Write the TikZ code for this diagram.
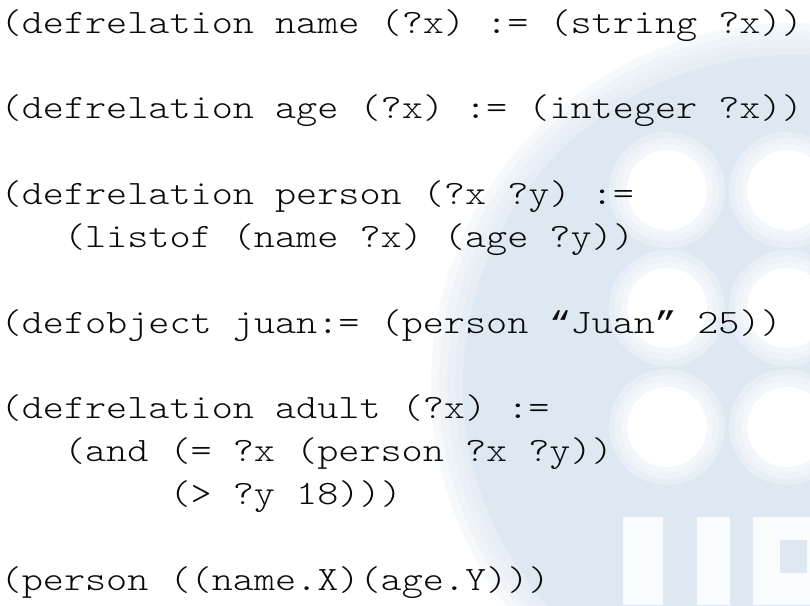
\documentclass[tikz,border=0pt]{standalone}
\usepackage{graphicx}
\usepackage{fontspec}
\newfontfamily\quotefont{Liberation Mono}
\usepackage{tikz}
\usetikzlibrary{positioning}
\definecolor{wmblue}{RGB}{221,232,242}
\definecolor{codeink}{RGB}{10,10,10}
\newcommand{\codeln}[1]{\scalebox{1}[0.85]{#1}}
\newcommand{\cq}[1]{\makebox[6.006pt]{\quotefont\fontsize{10.5pt}{12pt}\selectfont #1}}
\tikzstyle{codeline}=[anchor=base west, inner sep=0pt, text=codeink,
    font=\ttfamily\fontseries{l}\fontsize{11.44pt}{13pt}\selectfont]
\tikzstyle{wm_disc}=[fill=wmblue, draw=none, opacity=0.25]
\tikzstyle{wm_hole}=[fill=white, draw=none, opacity=0.3]
\tikzstyle{wm_bar}=[fill=white, draw=none, opacity=0.85]

\begin{document}
\begin{tikzpicture}[x=0.1mm, y=-0.1mm]
          \useasboundingbox[fill=white] (0,0) rectangle (810,605);
          % watermark, soft edges from stacked fills
          \fill[wm_disc] (793,385) circle (362);
          \fill[wm_disc] (793,385) circle (354);
          \fill[wm_disc] (793,385) circle (346);
          \fill[wm_disc] (793,385) circle (338);
          \fill[wmblue] (793,385) circle (330);
          \fill[wm_hole] (667,190) circle (58);
          \fill[wm_hole] (667,190) circle (52);
          \fill[wm_hole] (667,190) circle (46);
          \fill[white] (667,190) circle (40);
          \fill[wm_hole] (787,190) circle (58);
          \fill[wm_hole] (787,190) circle (52);
          \fill[wm_hole] (787,190) circle (46);
          \fill[white] (787,190) circle (40);
          \fill[wm_hole] (667,308) circle (58);
          \fill[wm_hole] (667,308) circle (52);
          \fill[wm_hole] (667,308) circle (46);
          \fill[white] (667,308) circle (40);
          \fill[wm_hole] (787,308) circle (58);
          \fill[wm_hole] (787,308) circle (52);
          \fill[wm_hole] (787,308) circle (46);
          \fill[white] (787,308) circle (40);
          \fill[wm_hole] (667,427) circle (58);
          \fill[wm_hole] (667,427) circle (52);
          \fill[wm_hole] (667,427) circle (46);
          \fill[white] (667,427) circle (40);
          \fill[wm_hole] (787,427) circle (58);
          \fill[wm_hole] (787,427) circle (52);
          \fill[wm_hole] (787,427) circle (46);
          \fill[white] (787,427) circle (40);
          \fill[wm_bar] (623,517) rectangle (663,605);
          \fill[wm_bar] (697,517) rectangle (730,605);
          \fill[wm_bar] (753,517) rectangle (810,605);
          \fill[wmblue] (780,540) rectangle (807,573);
          % code
          \node[codeline] (rname) at (0,33) {\codeln{(defrelation name (?x) := (string ?x))}};
          \node[codeline] (rage) at (0,118.7) {\codeln{(defrelation age (?x) := (integer ?x))}};
          \node[codeline] (rperson) at (0,204.4) {\codeln{(defrelation person (?x ?y) :=}};
          \node[codeline] (rpersonbody) at (63.3,247.3) {\codeln{(listof (name ?x) (age ?y))}};
          \node[codeline] (ojuan) at (0,333) {\codeln{(defobject juan:= (person \cq{“}Juan\cq{”} 25))}};
          \node[codeline] (radult) at (0,418.7) {\codeln{(defrelation adult (?x) :=}};
          \node[codeline] (radultand) at (63.3,461.6) {\codeln{(and (= ?x (person ?x ?y))}};
          \node[codeline] (radultcmp) at (168.8,504.4) {\codeln{(> ?y 18)))}};
          \node[codeline] (qperson) at (0,590) {\codeln{(person ((name.X)(age.Y)))}};
        \end{tikzpicture}
\end{document}
